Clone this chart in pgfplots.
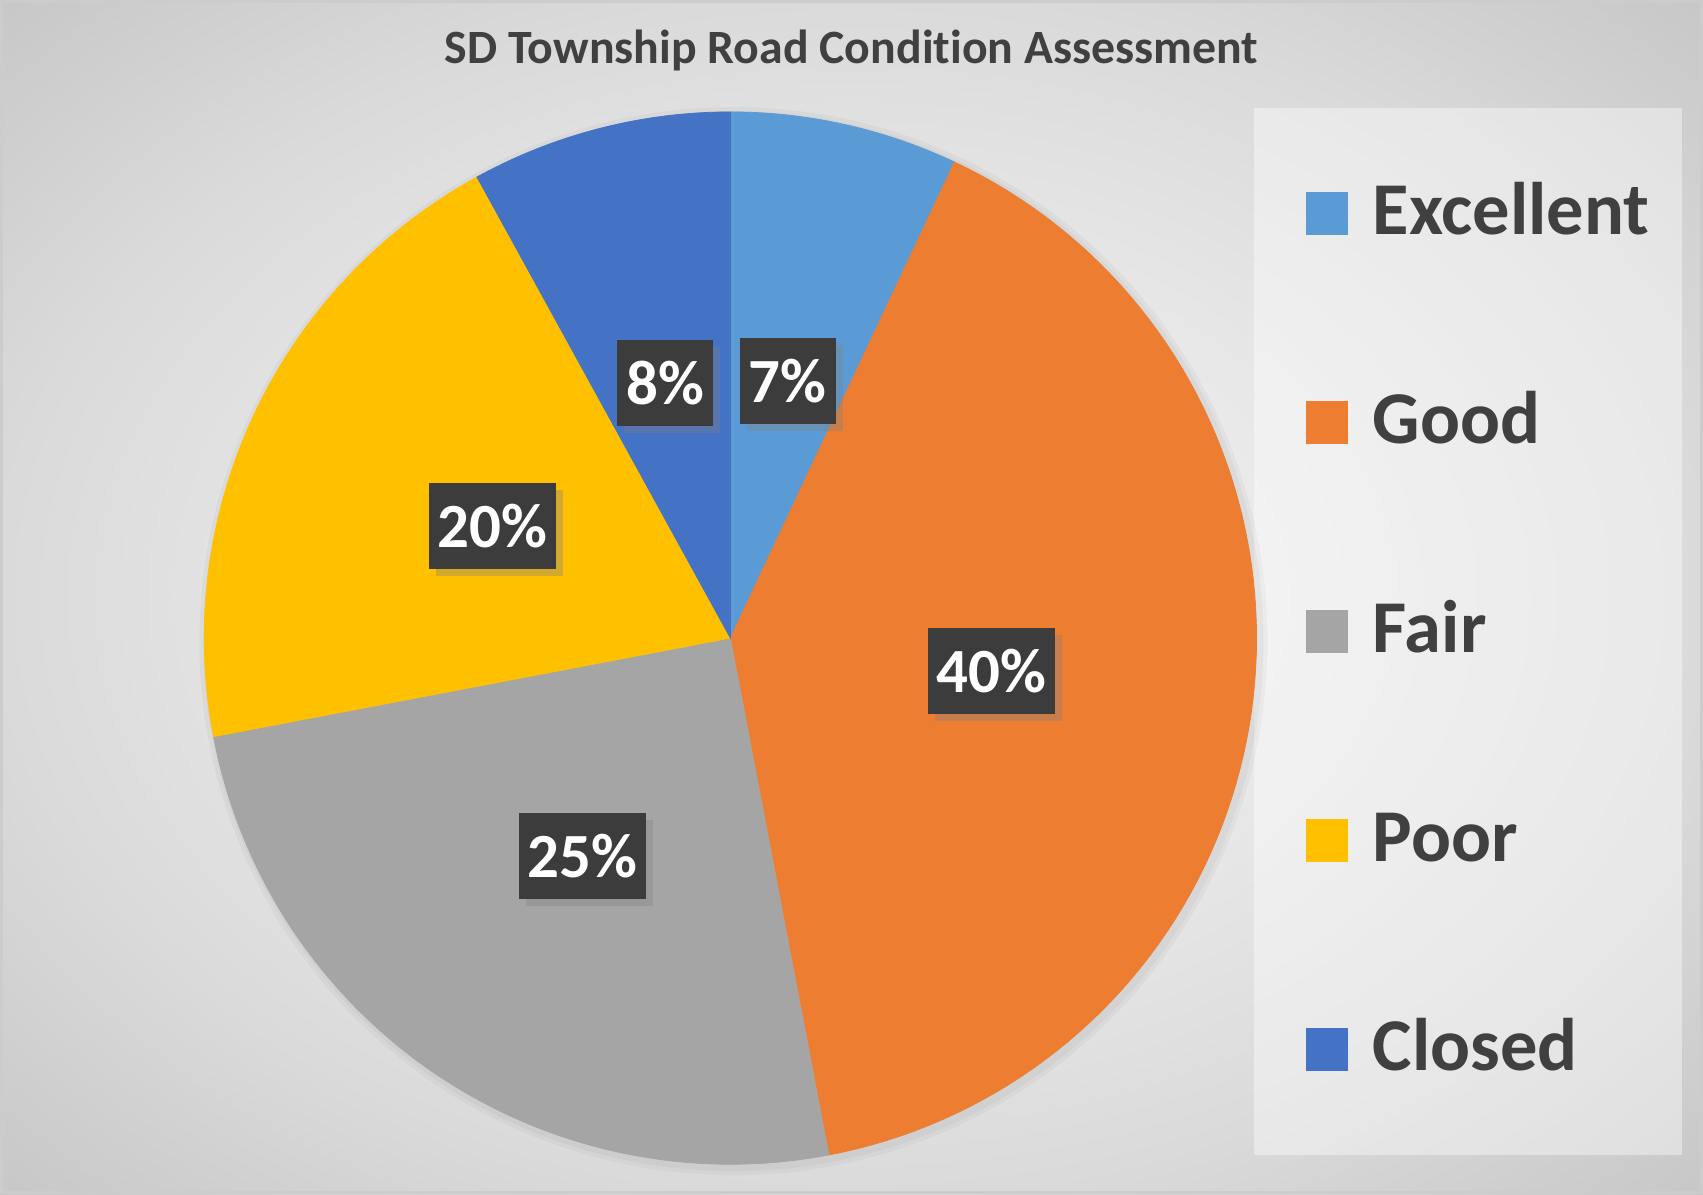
\documentclass[border=0pt]{standalone}
\usepackage{pgfplots}
\pgfplotsset{compat=1.18}
\usepackage{pgfplotstable}
\usepackage{fontspec}
\setmainfont{Carlito}[Ligatures=CommonOff]
\usetikzlibrary{shadows}

\definecolor{cExc}{HTML}{5B9BD5}
\definecolor{cGood}{HTML}{ED7D31}
\definecolor{cFair}{HTML}{A5A5A5}
\definecolor{cPoor}{HTML}{FFC000}
\definecolor{cClosed}{HTML}{4472C4}
\definecolor{txtgray}{HTML}{404040}
\definecolor{lblfill}{HTML}{3C3C3C}
\definecolor{bgA}{HTML}{FAFAFA}
\definecolor{bgB}{HTML}{DADADA}
\definecolor{bgC}{HTML}{C6C6C6}

\pgfdeclareradialshading{bgshade}{\pgfpoint{0bp}{0bp}}{%
  color(0bp)=(bgA); color(25bp)=(bgB); color(36bp)=(bgC); color(50bp)=(bgC)}

\tikzset{
  lbl/.style={fill=lblfill, text=white, font=\fontsize{17.9pt}{20pt}\selectfont\bfseries,
              inner xsep=0.9mm, minimum height=8.6mm,
              drop shadow={shadow xshift=0.7mm, shadow yshift=-0.7mm, opacity=0.35}},
}

% road condition shares (%)
\pgfplotstableread{
name      value col
Excellent 7     cExc
Good      40    cGood
Fair      25    cFair
Poor      20    cPoor
Closed    8     cClosed
}\roaddata

% pie geometry in picture units (1 unit = 0.1mm)
\def\cx{730.4}
\def\cy{555.9}
\def\rr{526.2}

\begin{document}
\begin{tikzpicture}
\path[use as bounding box] (0,0) rectangle (170.3mm,119.4mm);
\shade[shading=bgshade] (0,0) rectangle (170.3mm,119.4mm);
\draw[gray!40, line width=0.3mm] (0.15mm,0.15mm) rectangle (170.15mm,119.25mm);

\begin{axis}[
    at={(0,0)}, anchor=south west,
    scale only axis,
    width=170.3mm, height=119.4mm,
    xmin=0, xmax=1703, ymin=0, ymax=1194,
    hide axis,
    clip=false,
    every axis title shift=0pt,
    title={SD Township Road Condition Assessment},
    title style={at={(0.5,0.9573)}, anchor=center,
                 font=\fontsize{13.6pt}{16pt}\selectfont\bfseries, text=txtgray},
    legend cell align=left,
    legend image code/.code={\fill[#1] (0mm,-1.7mm) rectangle (4.1mm,2.5mm);},
    legend style={at={(0.7669,0.8459)}, anchor=north west,
                  draw=none, fill=none, inner sep=0pt, outer sep=0pt,
                  row sep=14.3mm, column sep=2.5mm,
                  font=\fontsize{21.2pt}{24pt}\selectfont\bfseries, text=txtgray,
                  nodes={inner sep=0pt, text height=5mm, text depth=1.6mm}},
]
% legend panel
\fill[white, opacity=0.4] (axis cs:1254,39) rectangle (axis cs:1682,1086);
% soft pie shadow
\fill[black, opacity=0.03] (axis cs:\cx+3,\cy-3) circle[radius=534];
\fill[black, opacity=0.03] (axis cs:\cx+3,\cy-3) circle[radius=530];

\def\cum{0}
\pgfplotsforeachungrouped \i in {0,...,4}{%
  \pgfplotstablegetelem{\i}{value}\of\roaddata \let\val\pgfplotsretval
  \pgfplotstablegetelem{\i}{name}\of\roaddata \let\nm\pgfplotsretval
  \pgfplotstablegetelem{\i}{col}\of\roaddata \let\cl\pgfplotsretval
  \pgfmathsetmacro\aA{90-3.6*\cum}%
  \pgfmathsetmacro\aB{90-3.6*(\cum+\val)}%
  \edef\doslice{%
    \noexpand\addplot[fill=\cl, draw=\cl, line width=0.2pt,
      domain=\aB:\aA, samples=90, variable=\noexpand\t]
      ({\cx+\rr*cos(\noexpand\t)},{\cy+\rr*sin(\noexpand\t)})
      -- (axis cs:\cx,\cy) -- cycle;
    \noexpand\addlegendentry{\nm}%
  }\doslice
  \pgfmathsetmacro\cum{\cum+\val}%
}
% percentage labels at the middle of each slice
\def\cum{0}
\pgfplotsforeachungrouped \i in {0,...,4}{%
  \pgfplotstablegetelem{\i}{value}\of\roaddata \let\val\pgfplotsretval
  \pgfmathsetmacro\aM{90-3.6*(\cum+\val/2)}%
  \pgfmathsetmacro\lx{\cx+0.5*\rr*cos(\aM)}%
  \pgfmathsetmacro\ly{\cy+0.5*\rr*sin(\aM)}%
  \edef\dolabel{\noexpand\node[lbl] at (axis cs:\lx,\ly) {\val\noexpand\%};}\dolabel
  \pgfmathsetmacro\cum{\cum+\val}%
}
\end{axis}
\end{tikzpicture}
\end{document}
